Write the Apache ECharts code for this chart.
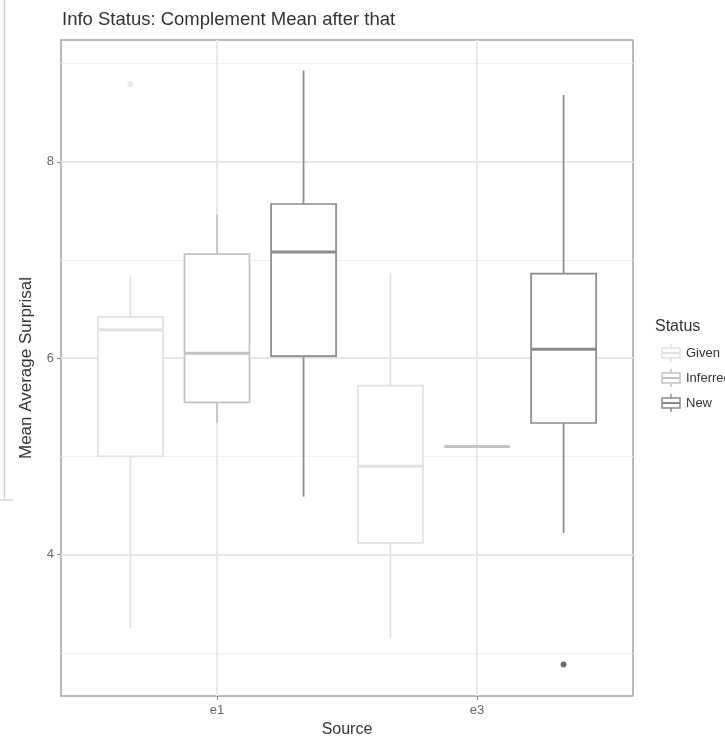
<!DOCTYPE html>
<html><head><meta charset="utf-8">
<script src="https://cdn.jsdelivr.net/npm/echarts@6/dist/echarts.min.js"></script>
<style>html,body{margin:0;padding:0;background:#fff}#c{width:725px;height:736px}</style>
</head><body><div id="c"></div>
<script>
const chartTitle = 'Info Status: Complement Mean after that';
const xName = 'Source';
const yName = 'Mean Average Surprisal';
const legendTitle = 'Status';
const categories = ['e1', 'e3'];
const statuses = ['Given', 'Inferred', 'New'];
// [min, q1, median, q3, max] for each category
const givenStats = [[3.25, 5.00, 6.29, 6.42, 6.83], [3.15, 4.12, 4.90, 5.72, 6.87]];
const inferredStats = [[5.34, 5.55, 6.05, 7.06, 7.46], [5.10, 5.10, 5.10, 5.10, 5.10]];
const newStats = [[4.59, 6.02, 7.08, 7.57, 8.93], [4.22, 5.34, 6.09, 6.86, 8.68]];
// outliers: [category index, value]
const givenOutliers = [[0, 8.79]];
const inferredOutliers = [];
const newOutliers = [[1, 2.88]];
const yMajorTicks = [4, 6, 8];
const yMinorTicks = [3, 5, 7, 9];
const yRange = [2.56, 9.24];
const xRange = [0.4, 2.6];

// styles
const FONT = "'Liberation Sans', Arial, sans-serif";
const statusColors = ['#e0e0e0', '#c2c2c2', '#8a8a8a'];
const outlierColors = ['#e4e4e4', '#c2c2c2', '#4a4a4a'];
const DODGE = 0.333;
const BOX_W = 0.25;

const allStats = [givenStats, inferredStats, newStats];
const allOutliers = [givenOutliers, inferredOutliers, newOutliers];

function xPos(ci, si) { return ci + 1 + (si - 1) * DODGE; }

function makeRender(color) {
  return function (params, api) {
    const x = api.value(0), mn = api.value(1), q1 = api.value(2), md = api.value(3), q3 = api.value(4), mx = api.value(5);
    const hw = BOX_W / 2;
    const tl = api.coord([x - hw, q3]);
    const br = api.coord([x + hw, q1]);
    const cMax = api.coord([x, mx]), cQ3 = api.coord([x, q3]), cQ1 = api.coord([x, q1]), cMin = api.coord([x, mn]);
    const mL = api.coord([x - hw, md]), mR = api.coord([x + hw, md]);
    return {
      type: 'group',
      children: [
        { type: 'line', shape: { x1: cMax[0], y1: cMax[1], x2: cQ3[0], y2: cQ3[1] }, style: { stroke: color, lineWidth: 1.7 } },
        { type: 'line', shape: { x1: cQ1[0], y1: cQ1[1], x2: cMin[0], y2: cMin[1] }, style: { stroke: color, lineWidth: 1.7 } },
        { type: 'rect', shape: { x: tl[0], y: tl[1], width: br[0] - tl[0], height: br[1] - tl[1] }, style: { fill: '#fff', stroke: color, lineWidth: 1.7 } },
        { type: 'line', shape: { x1: mL[0], y1: mL[1], x2: mR[0], y2: mR[1] }, style: { stroke: color, lineWidth: 3 } }
      ]
    };
  };
}

const series = [];
// grid lines
series.push({
  type: 'line', data: [], silent: true, z: 1,
  markLine: {
    silent: true, symbol: ['none', 'none'], label: { show: false }, animation: false,
    emphasis: { disabled: true },
    data: [
      ...yMinorTicks.map(v => ({ yAxis: v, lineStyle: { color: '#f1f1f1', width: 1, type: 'solid' } })),
      ...yMajorTicks.map(v => ({ yAxis: v, lineStyle: { color: '#e6e6e6', width: 2, type: 'solid' } })),
      ...categories.map((c, i) => ({ xAxis: i + 1, lineStyle: { color: '#e8e8e8', width: 2, type: 'solid' } }))
    ]
  }
});
statuses.forEach((s, si) => {
  series.push({
    type: 'custom', name: s, z: 10,
    renderItem: makeRender(statusColors[si]),
    encode: { x: 0, y: [1, 2, 3, 4, 5] },
    data: allStats[si].map((st, ci) => [xPos(ci, si)].concat(st))
  });
  if (allOutliers[si].length) {
    series.push({
      type: 'scatter', name: s + ' outliers', z: 11, symbolSize: 6,
      itemStyle: { color: outlierColors[si] },
      data: allOutliers[si].map(o => [xPos(o[0], si), o[1]])
    });
  }
});

const legendGraphics = [
  { type: 'text', x: 655, y: 327, style: { text: legendTitle, font: '16px ' + FONT, fill: '#333', align: 'left', verticalAlign: 'middle' } }
];
statuses.forEach((s, si) => {
  const cy = 353 + si * 25;
  const col = statusColors[si];
  legendGraphics.push(
    { type: 'line', shape: { x1: 671, y1: cy - 9, x2: 671, y2: cy + 9 }, style: { stroke: col, lineWidth: 1.5 } },
    { type: 'rect', shape: { x: 662, y: cy - 5, width: 18, height: 10 }, style: { fill: '#fff', stroke: col, lineWidth: 1.5 } },
    { type: 'line', shape: { x1: 662, y1: cy, x2: 680, y2: cy }, style: { stroke: col, lineWidth: 2 } },
    { type: 'text', x: 686, y: cy, style: { text: s, font: '13px ' + FONT, fill: '#333', align: 'left', verticalAlign: 'middle' } }
  );
});
// faint frame remnant on the left edge
legendGraphics.push(
  { type: 'line', shape: { x1: 4.5, y1: 0, x2: 4.5, y2: 500 }, style: { stroke: '#d4d4d4', lineWidth: 1.5 } },
  { type: 'line', shape: { x1: 0, y1: 500, x2: 13, y2: 500 }, style: { stroke: '#d4d4d4', lineWidth: 1.5 } }
);

const option = {
  animation: false,
  backgroundColor: '#fff',
  title: {
    text: chartTitle, left: 62, top: 10, padding: 0,
    textStyle: { fontFamily: FONT, fontSize: 18.5, fontWeight: 'normal', color: '#333' }
  },
  grid: {
    left: 61, right: 92, top: 40, bottom: 40, containLabel: false, outerBoundsMode: 'none',
    show: true, borderColor: '#a3a3a3', borderWidth: 1.5, backgroundColor: '#fff'
  },
  xAxis: {
    type: 'value', min: xRange[0], max: xRange[1],
    name: xName, nameLocation: 'middle', nameGap: 19,
    nameTextStyle: { fontFamily: FONT, fontSize: 16, color: '#333' },
    axisLine: { show: false },
    splitLine: { show: false },
    axisTick: { show: true, customValues: categories.map((c, i) => i + 1), length: 4, lineStyle: { color: '#888' } },
    axisLabel: {
      customValues: categories.map((c, i) => i + 1), margin: 8,
      formatter: v => categories[Math.round(v) - 1] || '',
      fontFamily: FONT, fontSize: 13, color: '#666'
    }
  },
  yAxis: {
    type: 'value', min: yRange[0], max: yRange[1],
    name: yName, nameLocation: 'middle', nameGap: 26, nameRotate: 90,
    nameTextStyle: { fontFamily: FONT, fontSize: 17, color: '#333' },
    axisLine: { show: false },
    splitLine: { show: false },
    axisTick: { show: true, customValues: yMajorTicks, length: 4, lineStyle: { color: '#888' } },
    axisLabel: { customValues: yMajorTicks, margin: 7, fontFamily: FONT, fontSize: 13, color: '#666' }
  },
  graphic: legendGraphics,
  series: series
};

const chart = echarts.init(document.getElementById('c'), null, { renderer: 'canvas' });
chart.setOption(option);
</script>
</body></html>
